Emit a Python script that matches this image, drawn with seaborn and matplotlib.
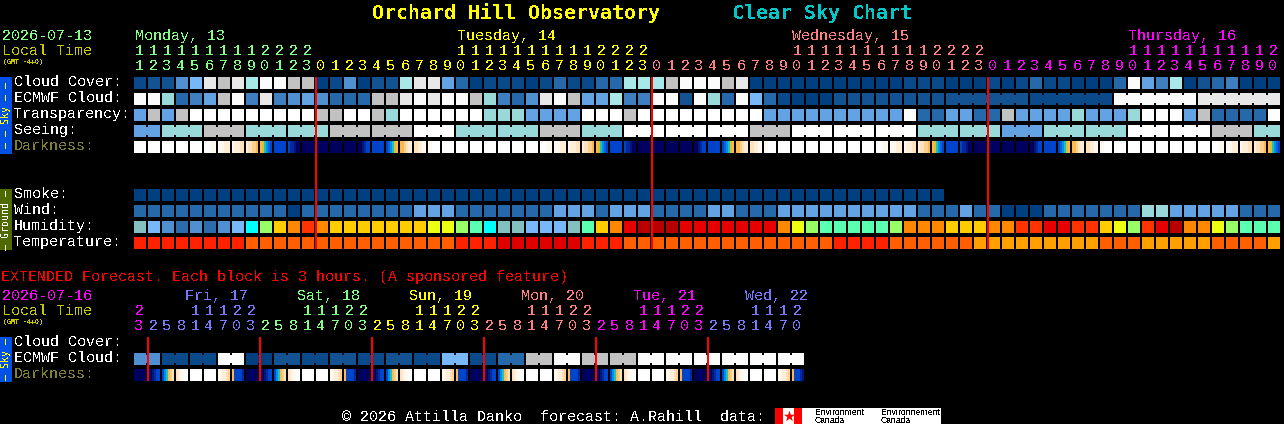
import numpy as np
import pandas as pd
import matplotlib
matplotlib.use('Agg')
import matplotlib.pyplot as plt
from matplotlib.colors import ListedColormap
from matplotlib.patches import Rectangle
import seaborn as sns

W, H = 1284, 424
PITCH = 14
LEFT = 134

# colour scales, the rows below hold indexes into these
SKY_COLORS = ['#004080', '#0a4a8a', '#135393', '#2669ab', '#3f7fbf', '#5090d0', '#63a3e3',
              '#78b8f8', '#99d9d9', '#a8e8e8', '#c2c2c2', '#e8e8e8', '#fbfbfb', '#ffffff']
HUMID_COLORS = ['#85c0c0', '#78b8f8', '#5090d0', '#2c6cac', '#00ffff', '#5affb0', '#99ff66',
                '#eeff11', '#ffcc00', '#ff8800', '#ff3300', '#e60000', '#b80000']
TEMP_COLORS = ['#e00000', '#ff2200', '#ff5f00', '#ffa000']
DARK_COLORS = ['#ffffff', '#fff8ee', '#ffefd8', '#ffe2bc', '#ffcf8f', '#ffb84f', '#d8c030',
               '#20c0c0', '#0090e8', '#0a62d8', '#0044cc', '#002a9c', '#001580', '#000060']

# hourly rows
CLOUD = [1, 2, 2, 5, 7, 11, 10, 11, 9, 12, 12, 10, 10,
         0, 1, 5, 0, 2, 2, 9, 11, 11, 6, 3, 0, 1, 1, 1, 0, 1, 3, 1, 1, 3, 3, 9, 9,
         9, 10, 12, 12, 12, 10, 11, 0, 0, 0, 0, 0, 0, 0, 0, 0, 0, 0, 1, 1, 1, 0, 0, 0,
         1, 0, 1, 3, 1, 1, 0, 0, 0, 3, 12, 6, 4, 9, 0, 2, 3, 4, 0, 0, 0]
ECMWF = [12, 12, 8, 3, 4, 6, 10, 12, 4, 11, 4, 5, 6,
         5, 3, 3, 3, 10, 10, 11, 12, 11, 12, 12, 10, 8, 4, 3, 5, 11, 12, 10, 6, 6, 9, 4, 4,
         12, 12, 2, 12, 8, 3, 12, 7, 3, 1, 0, 0, 0, 2, 2, 2, 2, 2, 2, 2, 2, 2, 2, 2,
         2, 2, 2, 1, 1, 1, 1, 1, 1, 12, 12, 12, 12, 12, 12, 11, 11, 11, 11, 11, 11]
ECMWF_BLOCKS = [1] * 58 + [6, 6, 6, 6]
TRANSPARENCY = [6, 10, 6, 10, 13, 13, 13, 13, 13, 13, 13, 13, 13,
                10, 10, 13, 13, 10, 8, 13, 13, 13, 13, 13, 13, 8, 8, 8, 6, 6, 6, 6, 13, 13, 13, 10, 13,
                13, 13, 13, 13, 13, 13, 13, 13, 6, 6, 6, 6, 6, 6, 6, 6, 6, 6, 13, 3, 3, 6, 6, 3,
                3, 10, 6, 6, 6, 6, 8, 6, 6, 6, 8, 13, 13, 13, 6, 10, 3, 3, 3, 3, 13]
SEEING = [6, 6, 8, 8, 8, 10, 10, 10, 8, 8, 8, 8, 8,
          8, 10, 10, 10, 10, 10, 10, 13, 13, 13, 8, 8, 8, 8, 8, 8, 10, 10, 10, 8, 8, 8, 13, 13,
          13, 13, 13, 13, 13, 13, 13, 10, 10, 10, 13, 13, 13, 13, 13, 13, 13, 13, 13, 8, 8, 8, 8, 8,
          8, 6, 6, 6, 8, 8, 8, 8, 8, 8, 13, 13, 13, 13, 13, 13, 10, 10, 10, 8, 8]
SEEING_BLOCKS = [2] + [3] * 26 + [2]
SMOKE = [0, 0, 0, 0, 0, 0, 0, 0, 0, 0, 0, 0, 0, 0, 0, 0, 0, 0, 0, 0, 0, 0, 0, 0, 0, 0, 0, 0, 0,
         0, 0, 0, 0, 0, 0, 0, 0, 0, 0, 0, 0, 0, 0, 0, 0, 0, 0, 0, 0, 0, 0, 0, 0, 0, 0, 0, 0, 0]
WIND = [3, 3, 3, 3, 3, 3, 3, 3, 3, 3, 3, 0, 3,
        3, 3, 3, 3, 3, 3, 3, 6, 6, 6, 3, 3, 3, 3, 3, 3, 3, 6, 6, 6, 3, 6, 6, 6,
        3, 3, 3, 3, 6, 6, 3, 3, 3, 6, 6, 6, 6, 6, 6, 6, 6, 6, 6, 3, 3, 3, 6, 3,
        3, 0, 0, 0, 3, 3, 3, 3, 3, 3, 3, 8, 8, 6, 6, 6, 6, 6, 3, 3, 3]
HUMIDITY = [0, 1, 2, 3, 2, 3, 2, 1, 4, 6, 8, 9, 10,
            9, 8, 8, 8, 8, 8, 8, 8, 7, 7, 6, 5, 4, 0, 0, 1, 1, 1, 0, 5, 8, 9, 11, 12,
            12, 12, 11, 11, 11, 11, 11, 11, 11, 9, 7, 6, 5, 5, 5, 5, 5, 6, 9, 9, 9, 8, 8, 8,
            9, 9, 10, 10, 11, 11, 10, 10, 8, 7, 6, 10, 11, 12, 9, 9, 7, 6, 5, 5, 5]
TEMPERATURE = [1, 1, 1, 1, 1, 1, 1, 1, 2, 2, 2, 2, 2,
               2, 2, 2, 2, 2, 2, 2, 2, 2, 2, 1, 1, 1, 0, 0, 0, 0, 0, 0, 1, 1, 1, 2, 2,
               2, 2, 2, 2, 2, 2, 2, 2, 2, 2, 2, 2, 2, 1, 1, 1, 1, 2, 2, 2, 2, 2, 2, 3,
               3, 3, 3, 3, 3, 3, 3, 3, 2, 2, 2, 3, 3, 3, 3, 3, 2, 2, 2, 2, 3]
# one string per cell, hex digits index DARK_COLORS from left to right inside the cell
DARKNESS = ['0', '0', '0', '0', '0', '000111', '111222', '122233', '233445', '56789a', 'a', 'abbcdd', 'd',
            'd', 'd', 'd', 'ddcbaa', 'a', 'a98765', '554322', '332211', '110000', '0', '0', '0', '0', '0', '0', '0',
            '000111', '111222', '122233', '233445', '56789a', 'a', 'abbcdd', 'd',
            'd', 'd', 'd', 'ddcbaa', 'a', 'a98765', '554322', '332211', '110000', '0', '0', '0', '0', '0', '0', '0',
            '000111', '111222', '122233', '233445', '56789a', 'a', 'abbcdd', 'd',
            'd', 'd', 'd', 'ddcbaa', 'a', 'a98765', '554322', '332211', '110000', '0', '0', '0', '0', '0', '0', '0',
            '000111', '111222', '122233', '233445', '56789a']
HOURS = [11, 12, 13, 14, 15, 16, 17, 18, 19, 20, 21, 22, 23,
         0, 1, 2, 3, 4, 5, 6, 7, 8, 9, 10, 11, 12, 13, 14, 15, 16, 17, 18, 19, 20, 21, 22, 23,
         0, 1, 2, 3, 4, 5, 6, 7, 8, 9, 10, 11, 12, 13, 14, 15, 16, 17, 18, 19, 20, 21, 22, 23,
         0, 1, 2, 3, 4, 5, 6, 7, 8, 9, 10, 11, 12, 13, 14, 15, 16, 17, 18, 19, 20]

# extended forecast, three hour cells
EXT_ECMWF = [5, 5, 1, 1, 1, 1, 12, 12, 0, 0, 2, 2, 1, 1, 2, 2, 1, 1, 2, 2, 1, 1, 7, 7,
             1, 1, 3, 3, 10, 10, 12, 12, 10, 10, 10, 10, 12, 12, 12, 12, 12, 12, 12, 12, 12, 12, 12, 12]
EXT_BLOCKS = [2] * 24
EXT_DARKNESS = ['d', 'ddcbaa', 'a87543', '321100', '0', '0', '112234', '5aaaab',
                'd', 'ddcbaa', 'a87543', '321100', '0', '0', '112234', '5aaaab',
                'd', 'ddcbaa', 'a87543', '321100', '0', '0', '112234', '5aaaab',
                'd', 'ddcbaa', 'a87543', '321100', '0', '0', '112234', '5aaaab',
                'd', 'ddcbaa', 'a87543', '321100', '0', '0', '112234', '5aaaab',
                'd', 'ddcbaa', 'a87543', '321100', '0', '0', '112234', '5aaabc']
EXT_HOURS = [23, 2, 5, 8, 11, 14, 17, 20, 23, 2, 5, 8, 11, 14, 17, 20, 23, 2, 5, 8, 11, 14, 17, 20,
             23, 2, 5, 8, 11, 14, 17, 20, 23, 2, 5, 8, 11, 14, 17, 20, 23, 2, 5, 8, 11, 14, 17, 20]

MAGENTA = '#ff00ff'
GREEN = '#80ff80'
YELLOW = '#ffff00'
PINK = '#ff8080'
VIOLET = '#7878ff'
OLIVE = '#c8c800'

# (first column, colour)
DAY_SPANS = [(0, GREEN), (13, YELLOW), (37, PINK), (61, MAGENTA)]
EXT_SPANS = [(0, MAGENTA), (1, VIOLET), (9, GREEN), (17, YELLOW), (25, PINK), (33, MAGENTA), (41, VIOLET)]
DAY_LABELS = [('Monday, 13', 135, GREEN), ('Tuesday, 14', 457, YELLOW),
              ('Wednesday, 15', 792, PINK), ('Thursday, 16', 1128, MAGENTA)]
EXT_LABELS = [('Fri, 17', 185, VIOLET), ('Sat, 18', 297, GREEN), ('Sun, 19', 409, YELLOW),
              ('Mon, 20', 521, PINK), ('Tue, 21', 633, MAGENTA), ('Wed, 22', 745, VIOLET)]

sns.set_theme(style='dark', rc={'figure.facecolor': 'black', 'axes.facecolor': 'black'})
plt.rcParams['font.family'] = ['Liberation Mono', 'DejaVu Sans Mono']
plt.rcParams['text.antialiased'] = False

fig = plt.figure(figsize=(W / 100, H / 100), dpi=100, facecolor='black')


def px_axes(x, y, w, h):
    ax = fig.add_axes([x / W, 1 - (y + h) / H, w / W, h / H])
    ax.set_facecolor('black')
    return ax


# Function to draw one hourly row with a 2 px black grid
def cell_row(values, colors, y, blocks=None, columns=None):
    n = columns or len(values)
    row = values + [np.nan] * (n - len(values))
    df = pd.DataFrame([row])
    ax = px_axes(LEFT - 1, y - 1, n * PITCH, 14)
    sns.heatmap(df, cmap=ListedColormap(colors), vmin=-0.5, vmax=len(colors) - 0.5, cbar=False,
                linewidths=1.44, linecolor='black', xticklabels=False, yticklabels=False,
                mask=df.isna(), ax=ax)
    if blocks:
        # merged forecast blocks keep a small neck between their cells
        start = 0
        for size in blocks:
            for k in range(start, start + size - 1):
                ax.add_patch(Rectangle((k + 1 - 1 / 14, 3 / 14), 2 / 14, 8 / 14,
                                       facecolor=colors[row[k]], lw=0, zorder=5))
            start += size
    return ax


# Function to draw a darkness row, every cell is six 2 px bands and a black gap
def dark_row(cells, y):
    bands = []
    for cell in cells:
        steps = [int(ch, 16) for ch in cell]
        bands += list(np.repeat(steps, 6 // len(steps))) + [np.nan]
    df = pd.DataFrame([bands])
    ax = px_axes(LEFT, y, len(cells) * PITCH, 12)
    sns.heatmap(df, cmap=ListedColormap(DARK_COLORS), vmin=-0.5, vmax=len(DARK_COLORS) - 0.5, cbar=False,
                xticklabels=False, yticklabels=False, mask=df.isna(), ax=ax)
    return ax


cell_row(CLOUD, SKY_COLORS, 77)
cell_row(ECMWF, SKY_COLORS, 93, blocks=ECMWF_BLOCKS)
cell_row(TRANSPARENCY, SKY_COLORS, 109)
cell_row(SEEING, SKY_COLORS, 125, blocks=SEEING_BLOCKS)
dark_row(DARKNESS, 141)
cell_row(SMOKE, SKY_COLORS, 189, columns=len(HOURS))
cell_row(WIND, SKY_COLORS, 205)
cell_row(HUMIDITY, HUMID_COLORS, 221)
cell_row(TEMPERATURE, TEMP_COLORS, 237)
cell_row(EXT_ECMWF, SKY_COLORS, 353, blocks=EXT_BLOCKS)
dark_row(EXT_DARKNESS, 369)

# overlay in image pixels for the text, strips and midnight lines
over = fig.add_axes([0, 0, 1, 1], zorder=10)
over.set_xlim(0, W)
over.set_ylim(H, 0)
over.axis('off')
over.patch.set_alpha(0)


def label(x, y, s, color='white', size=10.8, **kw):
    over.text(x, y, s, color=color, fontsize=size, va='baseline', **kw)


label(372, 19, 'Orchard Hill Observatory', YELLOW, 14.35, fontweight='bold', family='DejaVu Sans Mono')
label(732, 19, 'Clear Sky Chart', '#00c8c8', 14.35, fontweight='bold', family='DejaVu Sans Mono')

label(2, 40, '2026-07-13', GREEN)
label(2, 55, 'Local Time', OLIVE)
label(3, 64, '(GMT -4+0)', OLIVE, 4.8, fontweight='bold', family='DejaVu Sans Mono')
for text, x, color in DAY_LABELS:
    label(x, 40, text, color)


def hour_labels(hours, spans, y_tens, y_units):
    for i, hour in enumerate(hours):
        color = [c for start, c in spans if start <= i][-1]
        x = LEFT + 5 + i * PITCH
        if hour >= 10:
            label(x, y_tens, str(hour // 10), color, ha='center')
        label(x, y_units, str(hour % 10), color, ha='center')


hour_labels(HOURS, DAY_SPANS, 55, 70)

for y, text, color in [(86, 'Cloud Cover:', 'white'), (102, 'ECMWF Cloud:', 'white'),
                       (118, 'Transparency:', 'white'), (134, 'Seeing:', 'white'),
                       (150, 'Darkness:', '#808030'), (198, 'Smoke:', 'white'), (214, 'Wind:', 'white'),
                       (230, 'Humidity:', 'white'), (246, 'Temperature:', 'white'),
                       (346, 'Cloud Cover:', 'white'), (362, 'ECMWF Cloud:', 'white'),
                       (378, 'Darkness:', '#808030')]:
    label(14, y, text, color)

label(1, 281, 'EXTENDED Forecast. Each block is 3 hours. (A sponsored feature)', '#ff0000')
label(2, 300, '2026-07-16', MAGENTA)
label(2, 315, 'Local Time', OLIVE)
label(3, 324, '(GMT -4+0)', OLIVE, 4.8, fontweight='bold', family='DejaVu Sans Mono')
for text, x, color in EXT_LABELS:
    label(x, 300, text, color)
hour_labels(EXT_HOURS, EXT_SPANS, 315, 330)

# side strips
for y0, y1, color, text, tcolor in [(77, 154, '#0052e6', '\u2013 \u2013 Sky \u2013 \u2013', YELLOW),
                                    (189, 250, '#4f6a00', '\u2013 Ground \u2013', 'white'),
                                    (337, 382, '#0052e6', '\u2013 Sky \u2013', YELLOW)]:
    over.add_patch(Rectangle((0, y0), 12, y1 - y0, facecolor=color, lw=0))
    over.text(6, (y0 + y1) / 2, text, color=tcolor, fontsize=7.2, rotation=90,
              ha='center', va='center', family='DejaVu Sans Mono')

# midnight lines
for x in [315, 651, 987]:
    over.add_patch(Rectangle((x, 77), 2, 172, facecolor='#ff0000', lw=0))
for x in [147, 259, 371, 483, 595, 707]:
    over.add_patch(Rectangle((x, 337), 2, 44, facecolor='#ff0000', lw=0))

# footer
label(342, 421, '\u00a9 2026 Attilla Danko  forecast: A.Rahill  data:')
over.add_patch(Rectangle((775, 408), 166, 16, facecolor='white', lw=0))
over.add_patch(Rectangle((775, 408), 8, 16, facecolor='#ff0000', lw=0))
over.add_patch(Rectangle((794, 408), 8, 16, facecolor='#ff0000', lw=0))
over.scatter([788.5], [416], marker='*', s=70, color='#ff0000', lw=0)
for x, word in [(815, 'Environment'), (881, 'Environnement')]:
    over.text(x, 415, word, color='black', fontsize=6.2, va='baseline', family='Liberation Sans')
    over.text(x, 423, 'Canada', color='black', fontsize=6.2, va='baseline', family='Liberation Sans')

fig.savefig('out.png', dpi=100, facecolor='black')
